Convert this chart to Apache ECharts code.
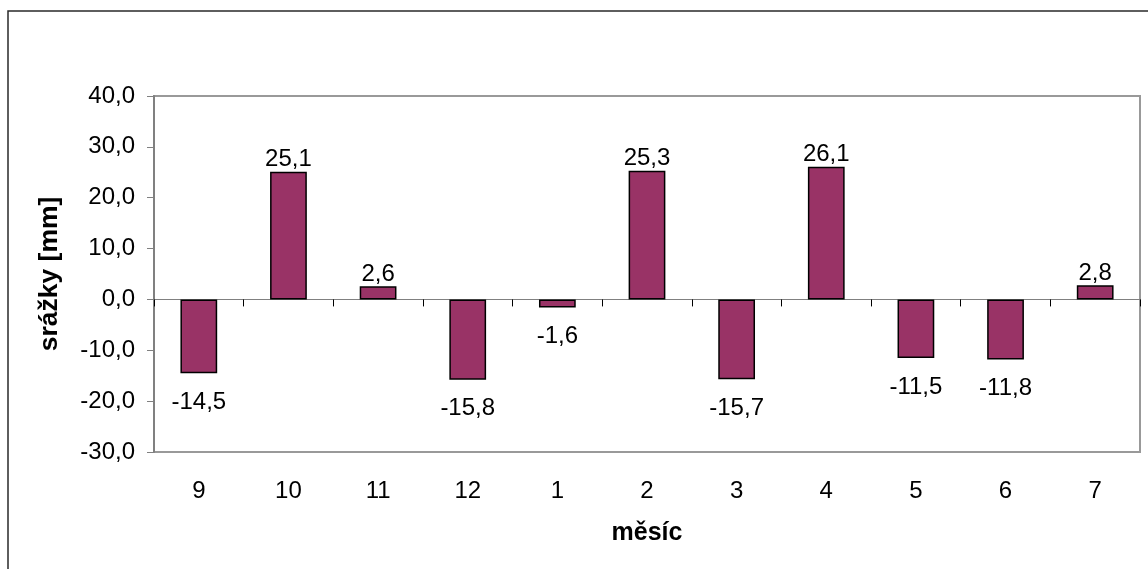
<!DOCTYPE html>
<html>
<head>
<meta charset="utf-8">
<script src="https://cdn.jsdelivr.net/npm/echarts@6/dist/echarts.min.js"></script>
<style>
  html, body { margin: 0; padding: 0; background: #fff; }
  #chart { width: 1148px; height: 569px; }
</style>
</head>
<body>
<div id="chart"></div>
<script>
// Monthly precipitation deviations (mm)
const months = ['9', '10', '11', '12', '1', '2', '3', '4', '5', '6', '7'];
const deviations = [-14.5, 25.1, 2.6, -15.8, -1.6, 25.3, -15.7, 26.1, -11.5, -11.8, 2.8];
const yTicks = { min: -30, max: 40, interval: 10 };

const FONT = '"Liberation Sans", Arial, sans-serif';
const fmt = v => v.toFixed(1).replace('.', ',');

// positive values labelled above the bar, negative ones below
const barData = deviations.map(v => ({
  value: v,
  label: v >= 0
    ? { position: 'top', distance: 0 }
    : { position: 'bottom', distance: 17 }
}));

const chart = echarts.init(document.getElementById('chart'));
chart.setOption({
  animation: false,
  backgroundColor: '#fff',
  textStyle: { fontFamily: FONT },
  graphic: [{
    type: 'rect',
    shape: { x: 8, y: 11, width: 1200, height: 600 },
    style: { fill: 'none', stroke: '#2a2a2a', lineWidth: 1.5 },
    silent: true
  }],
  grid: {
    left: 154, top: 96, right: 8, bottom: 117,
    show: true, borderColor: '#999', borderWidth: 2, backgroundColor: '#fff'
  },
  xAxis: [{
    type: 'category',
    data: months,
    position: 'bottom',
    axisLine: { show: false, onZero: false },
    axisTick: { show: false },
    axisLabel: { fontSize: 24, color: '#000', margin: 27, fontFamily: FONT },
    name: 'měsíc',
    nameLocation: 'middle',
    nameGap: 69,
    nameTextStyle: { fontSize: 25, fontWeight: 'bold', color: '#000', fontFamily: FONT }
  }, {
    // zero line with ticks between categories
    type: 'category',
    data: months,
    position: 'bottom',
    axisLine: { show: true, onZero: true, lineStyle: { color: '#808080', width: 1 } },
    axisTick: { show: true, length: 7, lineStyle: { color: '#000', width: 1 } },
    axisLabel: { show: false }
  }],
  yAxis: {
    type: 'value',
    min: yTicks.min, max: yTicks.max, interval: yTicks.interval,
    splitLine: { show: false },
    axisLine: { show: true, lineStyle: { color: '#808080', width: 2 } },
    axisTick: { show: true, length: 7, lineStyle: { color: '#808080', width: 1 } },
    axisLabel: { fontSize: 24, color: '#000', margin: 19, formatter: fmt, fontFamily: FONT },
    name: 'srážky [mm]',
    nameLocation: 'middle',
    nameGap: 91,
    nameTextStyle: { fontSize: 26.5, fontWeight: 'bold', color: '#000', fontFamily: FONT }
  },
  series: [{
    type: 'bar',
    xAxisIndex: 0,
    data: barData,
    barWidth: '41%',
    itemStyle: { color: '#993366', borderColor: '#000', borderWidth: 1.5 },
    label: {
      show: true,
      fontSize: 24,
      color: '#000',
      fontFamily: FONT,
      formatter: p => fmt(p.value)
    }
  }]
});
</script>
</body>
</html>
